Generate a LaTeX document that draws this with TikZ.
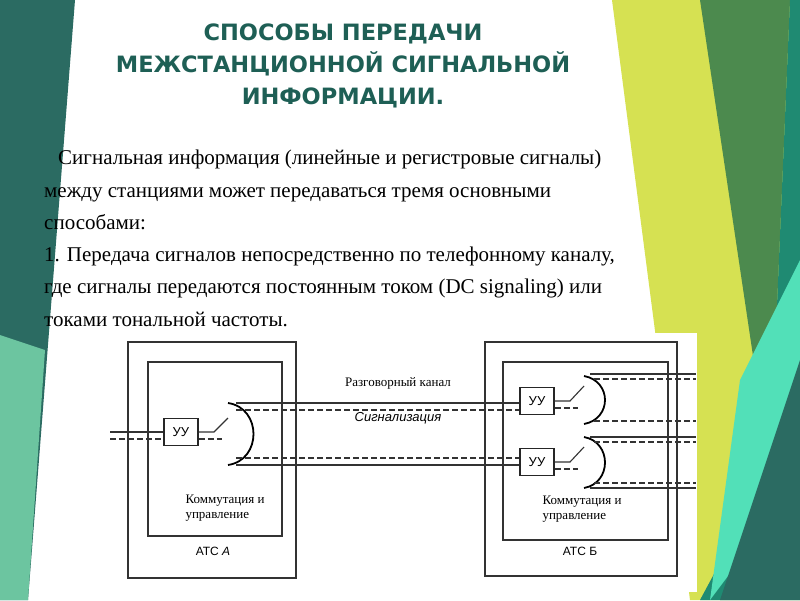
\documentclass[tikz,border=0pt]{standalone}
\usepackage{fontspec}
\setmainfont{Liberation Serif}
\newfontfamily\titlefont{DejaVu Sans}
\newfontfamily\arialf{Liberation Sans}
\definecolor{ttl}{HTML}{1E5F55}
\definecolor{dteal}{HTML}{2B6B62}
\definecolor{lteal}{HTML}{6CC5A0}
\definecolor{ylime}{HTML}{D6E152}
\definecolor{dgreen}{HTML}{4C8A4E}
\definecolor{rteal}{HTML}{1F8A72}
\definecolor{mint}{HTML}{52E0B8}
\begin{document}
\begin{tikzpicture}[x=1pt,y=-1pt,
  wire/.style={line width=1.1pt,black!80},
  dline/.style={line width=1.1pt,black!80,dash pattern=on 6pt off 3pt},
  box/.style={draw=black!80,line width=1.1pt},
  uu/.style={draw=black!85,line width=1.8pt,minimum width=34pt,minimum height=27pt,inner sep=0pt,font=\arialf\fontsize{13}{15}\selectfont},
  lbl/.style={font=\fontsize{13}{15}\selectfont,inner sep=0pt,align=left}]
\useasboundingbox (0,0) rectangle (800,600);
\fill[white] (0,0) rectangle (800,600);
% decorations
\fill[dteal] (0,0) -- (75,0) -- (28,600) -- (0,600) -- cycle;
\fill[lteal] (0,335) -- (45,350) -- (28,600) -- (0,600) -- cycle;
\fill[ylime] (612,0) -- (800,0) -- (800,600) -- (690,600) -- cycle;
\fill[dgreen] (700,0) -- (790,0) -- (770,470) -- cycle;
\fill[rteal] (790,0) -- (800,0) -- (800,600) -- (700,600) -- (770,470) -- cycle;
\fill[mint] (740,380) -- (800,260) -- (800,480) -- (710,600) -- cycle;
\fill[dteal] (800,360) -- (800,600) -- (720,600) -- cycle;
\fill[white] (110,333) rectangle (697,592);
% title
\node[font=\titlefont\bfseries\fontsize{22.5}{32}\selectfont,text=ttl,align=center] (title) at (343,66) {СПОСОБЫ ПЕРЕДАЧИ\\МЕЖСТАНЦИОННОЙ СИГНАЛЬНОЙ\\ИНФОРМАЦИИ.};
\node[anchor=north west,font=\fontsize{21}{32.3}\selectfont,align=left,inner sep=0pt] (body) at (44,150) {\hspace*{14pt}Сигнальная информация (линейные и регистровые сигналы)\\между станциями может передаваться тремя основными\\способами:\\1. Передача сигналов непосредственно по телефонному каналу,\\где сигналы передаются постоянным током (DC signaling) или\\токами тональной частоты.};
% station A
\draw[box] (128,342) rectangle (296,578);
\draw[box] (148,362) rectangle (282,536);
\node[uu] (uA) at (181,432) {УУ};
\node[lbl] (kA) at (225,508) {Коммутация и\\управление};
\node[font=\arialf\fontsize{12}{14}\selectfont] (aA) at (213,551) {АТС \textit{А}};
% station B
\draw[box] (485,342) rectangle (677,576);
\draw[box] (503,362) rectangle (668,540);
\node[uu] (uB1) at (537,401) {УУ};
\node[uu] (uB2) at (537,462) {УУ};
\node[lbl] (kB) at (582,509) {Коммутация и\\управление};
\node[font=\arialf\fontsize{12}{14}\selectfont] (aB) at (580,551) {АТС Б};
\node[font=\fontsize{13}{15}\selectfont] (talk) at (398,383) {Разговорный канал};
\node[font=\arialf\fontsize{13}{15}\selectfont\itshape] (sig) at (398,418) {Сигнализация};
% A wiring
\coordinate (inS) at (110,432); \coordinate (inD) at (110,439);
\draw[wire] (inS) -- (uA.west |- inS);
\draw[dline] (inD) -- (uA.west |- inD);
\draw[wire] (uA.east) -- (214,432) -- (228,418);
\draw[dline] (uA.east |- 0,439) -- (222,439);
\draw[line width=1.8pt] (228,403) .. controls (262,408) and (262,460) .. (228,465);
\draw[wire] (236,403) -- (uB1.west |- 0,403);
\draw[dline] (236,410) -- (uB1.west |- 0,410);
\draw[dline] (236,458) -- (uB2.west |- 0,458);
\draw[wire] (236,465) -- (uB2.west |- 0,465);
% B wiring
\draw[wire] (uB1.east) -- (570,401) -- (584,386);
\draw[dline] (uB1.east |- 0,408) -- (578,408);
\draw[line width=1.8pt] (584,376) .. controls (612,381) and (612,419) .. (584,424);
\draw[wire] (uB2.east) -- (570,462) -- (584,447);
\draw[dline] (uB2.east |- 0,469) -- (578,469);
\draw[line width=1.8pt] (584,437) .. controls (612,442) and (612,483) .. (584,488);
\coordinate (r1) at (696,374); \coordinate (r2) at (696,379);
\coordinate (r3) at (696,421); \coordinate (r4) at (696,437);
\coordinate (r5) at (696,442); \coordinate (r6) at (696,483); \coordinate (r7) at (696,488);
\draw[wire] (590,374) -- (r1);
\draw[dline] (594,379) -- (r2);
\draw[dline] (594,421) -- (r3);
\draw[wire] (590,437) -- (r4);
\draw[dline] (594,442) -- (r5);
\draw[dline] (594,483) -- (r6);
\draw[wire] (590,488) -- (r7);
\end{tikzpicture}
\end{document}
